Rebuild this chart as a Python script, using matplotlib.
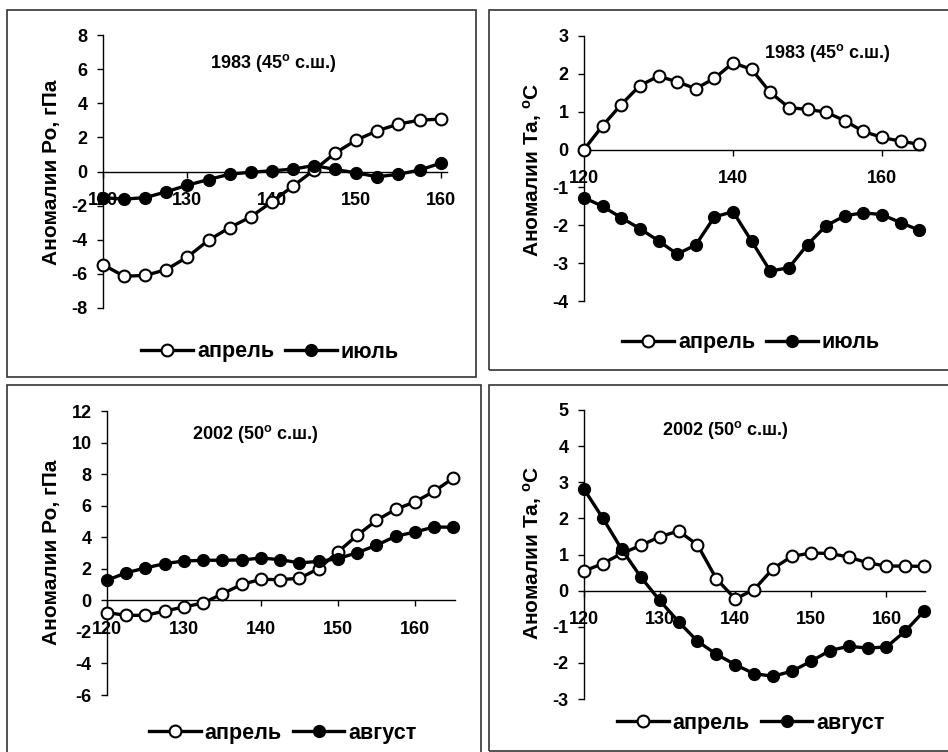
import numpy as np
import matplotlib.pyplot as plt
from matplotlib.patches import Rectangle
from matplotlib.lines import Line2D

plt.rcParams['font.family'] = ['Liberation Sans', 'DejaVu Sans']
plt.rcParams['font.weight'] = 'bold'
plt.rcParams['axes.unicode_minus'] = False
plt.rcParams['mathtext.fontset'] = 'custom'
plt.rcParams['mathtext.rm'] = 'Liberation Sans:bold'
plt.rcParams['mathtext.it'] = 'Liberation Sans:bold'
plt.rcParams['mathtext.bf'] = 'Liberation Sans:bold'

# долгота (в.д.)
lon_17 = np.arange(120, 160.1, 2.5)
lon_19 = np.arange(120, 165.1, 2.5)

# 1983, давление
p83_apr = [-5.46, -6.14, -6.09, -5.75, -5.01, -4.03, -3.29, -2.66, -1.78, -0.86,
           0.08, 1.08, 1.84, 2.39, 2.78, 3.01, 3.07]
p83_jul = [-1.53, -1.62, -1.53, -1.19, -0.80, -0.47, -0.16, -0.04, 0.04, 0.14,
           0.35, 0.12, -0.08, -0.31, -0.16, 0.08, 0.49]

# 1983, температура
t83_apr = [0.0, 0.63, 1.19, 1.69, 1.94, 1.79, 1.61, 1.88, 2.29, 2.12, 1.51, 1.11,
           1.06, 0.99, 0.76, 0.48, 0.32, 0.22, 0.14]
t83_jul = [-1.27, -1.50, -1.80, -2.09, -2.41, -2.76, -2.52, -1.78, -1.64, -2.42,
           -3.21, -3.12, -2.51, -2.01, -1.75, -1.67, -1.72, -1.93, -2.13]

# 2002, давление
p02_apr = [-0.78, -0.95, -0.95, -0.68, -0.42, -0.17, 0.42, 1.01, 1.33, 1.31, 1.40,
           2.01, 3.07, 4.12, 5.07, 5.77, 6.24, 6.91, 7.76]
p02_aug = [1.27, 1.75, 2.05, 2.33, 2.49, 2.54, 2.54, 2.56, 2.68, 2.58, 2.37, 2.47,
           2.64, 3.02, 3.49, 4.06, 4.33, 4.65, 4.63]

# 2002, температура
t02_apr = [0.54, 0.75, 1.03, 1.25, 1.49, 1.65, 1.27, 0.33, -0.23, 0.03, 0.61, 0.95,
           1.04, 1.03, 0.93, 0.77, 0.68, 0.68, 0.67]
t02_aug = [2.81, 2.00, 1.14, 0.38, -0.27, -0.86, -1.40, -1.76, -2.05, -2.30, -2.37,
           -2.23, -1.96, -1.66, -1.54, -1.59, -1.56, -1.12, -0.56]

W, H = 948, 752
fig = plt.figure(figsize=(W / 100, H / 100), dpi=100)

LW, MS = 2.4, 8.5


def px_axes(x0, x1, y0, y1):
    # пиксели (сверху вниз) -> доли фигуры
    return fig.add_axes([x0 / W, 1 - y1 / H, (x1 - x0) / W, (y1 - y0) / H])


def panel(rect, x, s1, s2, ylim, yticks, xticks, xmax, title, tpos, ylabel,
          ylab_pos, names, leg_pos):
    ax = px_axes(*rect)
    ax.plot(x, s1, '-o', color='black', lw=LW, ms=MS, mfc='white', mec='black',
            mew=1.5, clip_on=False, zorder=3)
    ax.plot(x, s2, '-o', color='black', lw=LW, ms=MS, mfc='black', mec='black',
            clip_on=False, zorder=3)
    ax.set_xlim(120, xmax)
    ax.set_ylim(*ylim)
    ax.set_yticks(yticks)
    ax.set_xticks(xticks)
    for s in ['top', 'right']:
        ax.spines[s].set_visible(False)
    ax.spines['bottom'].set_position(('data', 0))
    ax.spines['left'].set_linewidth(1.0)
    ax.spines['bottom'].set_linewidth(1.0)
    ax.tick_params(axis='both', direction='out', length=4, width=1.0,
                   labelsize=13)
    ax.tick_params(axis='y', pad=7)
    ax.tick_params(axis='x', pad=11)
    for lab in ax.get_xticklabels() + ax.get_yticklabels():
        lab.set_fontweight('bold')
    ax.text(tpos[0], tpos[1], title, transform=ax.transAxes, ha='center',
            va='center', fontsize=13, fontweight='bold')
    fig.text(ylab_pos[0] / W, 1 - ylab_pos[1] / H, ylabel, rotation=90,
             ha='center', va='center', fontsize=15, fontweight='bold')
    h = [Line2D([], [], color='black', lw=LW, marker='o', ms=MS, mfc='white',
                mec='black', mew=1.5),
         Line2D([], [], color='black', lw=LW, marker='o', ms=MS, mfc='black',
                mec='black')]
    fig.legend(h, names, loc='center',
               bbox_to_anchor=(leg_pos[0] / W, 1 - leg_pos[1] / H),
               ncol=2, frameon=False, fontsize=15.5, handlelength=2.4,
               handletextpad=0.2, columnspacing=0.5, borderpad=0,
               prop={'weight': 'bold', 'size': 15.5})
    return ax


panel((103, 447, 35, 308), lon_17, p83_apr, p83_jul, (-8, 8),
      np.arange(-8, 9, 2), [120, 130, 140, 150, 160], 160.75,
      '1983 (45$^{o}$ с.ш.)', (0.494, 0.897),
      'Аномалии Ро, гПа', (52, 172), ['апрель', 'июль'], (270, 352))

panel((584, 923, 36, 301), lon_19, t83_apr, t83_jul, (-4, 3),
      np.arange(-4, 4, 1), [120, 140, 160], 165.5,
      '1983 (45$^{o}$ с.ш.)', (0.716, 0.935),
      'Аномалии Та, $^{o}$С', (533, 170), ['апрель', 'июль'], (751, 343))

panel((107, 455, 411, 695), lon_19, p02_apr, p02_aug, (-6, 12),
      np.arange(-6, 13, 2), [120, 130, 140, 150, 160], 165.2,
      '2002 (50$^{o}$ с.ш.)', (0.425, 0.920),
      'Аномалии Ро, гПа', (52, 552), ['апрель', 'август'], (283, 733))

panel((584, 925, 410, 699), lon_19, t02_apr, t02_aug, (-3, 5),
      np.arange(-3, 6, 1), [120, 130, 140, 150, 160], 165.1,
      '2002 (50$^{o}$ с.ш.)', (0.413, 0.931),
      'Аномалии Та, $^{o}$С', (532, 553), ['апрель', 'август'], (751, 723))

# рамки панелей
for (x0, y0, x1, y1) in [(7, 10, 476, 377), (489, 10, 952, 370),
                         (7, 385, 481, 756), (489, 385, 952, 751)]:
    fig.patches.append(Rectangle((x0 / W, 1 - y1 / H), (x1 - x0) / W, (y1 - y0) / H,
                                 transform=fig.transFigure, fill=False,
                                 edgecolor='#333333', lw=1.2))

fig.savefig('out.png', dpi=100)
